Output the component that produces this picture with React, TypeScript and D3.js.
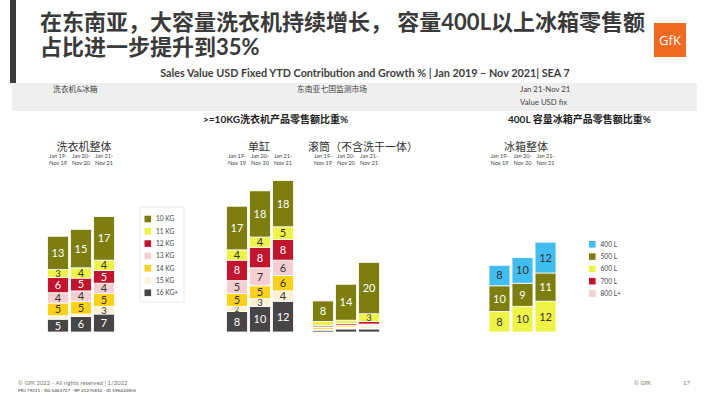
import * as d3 from 'd3';

const periodTop = ['Jan 19-', 'Jan 20-', 'Jan 21-'];
const periodBottom = ['Nov 19', 'Nov 20', 'Nov 21'];

const washerKeys = ['10 KG', '11 KG', '12 KG', '13 KG', '14 KG', '15 KG', '16 KG+'];
const washerColors = ['#7d7e0d', '#eef348', '#c0152d', '#f4cfd2', '#fcd11c', '#fbf1d6', '#474545'];
const washerLabelDark = [false, true, false, true, true, true, false];

// values per key (same order as washerKeys), one value per period
const washerTotal = [
  [13, 15, 17],
  [3, 4, 4],
  [6, 5, 5],
  [4, 4, 4],
  [5, 5, 5],
  [1.3, 1, 3],
  [5, 6, 7],
];
const singleTub = [
  [17, 18, 18],
  [4, 4, 5],
  [8, 8, 8],
  [5, 7, 6],
  [5, 5, 6],
  [2, 3, 4],
  [8, 10, 12],
];
const drum = [
  [8, 14, 20],
  [1.5, 1.3, 3],
  [0.6, 0.6, 1],
  [0.3, 0.3, 0.6],
  [0.6, 0.6, 0.3],
  [0.4, 0.6, 1],
  [0.7, 1.2, 1.2],
];

const fridgeKeys = ['400 L', '500 L', '600 L', '700 L', '800 L+'];
const fridgeColors = ['#41bdf0', '#7d7e0d', '#eef348', '#c0152d', '#f4cfd2'];
const fridgeLabelDark = [true, false, true, false, true];
const fridgeTotal = [
  [8, 10, 12],
  [10, 9, 11],
  [8, 10, 12],
  [0, 0, 0],
  [0, 0, 0],
];

const FONT = "Lato, 'Noto Sans CJK SC', sans-serif";
const y = d3.scaleLinear().domain([0, 60]).range([332, 178]);

type GroupProps = {
  values: number[][];
  keys: string[];
  colors: string[];
  dark: boolean[];
  stackOrder: number[]; // indices bottom -> top
  x0: number;
  x1: number;
};

function StackedGroup({ values, keys, colors, dark, stackOrder, x0, x1 }: GroupProps) {
  const x = d3.scaleBand<number>().domain([0, 1, 2]).range([x0, x1]).paddingInner(0.09);
  const rows = periodTop.map((_, p) => {
    const r: Record<string, number> = {};
    keys.forEach((k, i) => (r[k] = values[i][p]));
    return r;
  });
  const series = d3.stack<Record<string, number>>().keys(stackOrder.map((i) => keys[i]))(rows);
  return (
    <g>
      {series.map((s, si) => {
        const ki = stackOrder[si];
        return s.map((d, p) => {
          const v = d[1] - d[0];
          if (v <= 0) return null;
          const top = y(d[1]);
          const h = y(d[0]) - y(d[1]);
          return (
            <g key={`${si}-${p}`}>
              <rect x={x(p)} y={top} width={x.bandwidth()} height={h} fill={colors[ki]} stroke="#fff" strokeWidth={0.8} />
              {v >= 1.8 && (
                <text
                  x={(x(p) as number) + x.bandwidth() / 2}
                  y={top + h / 2}
                  dy="0.36em"
                  textAnchor="middle"
                  fontSize={v < 2.5 ? 7.5 : v < 3.5 ? 9.5 : 11}
                  fontFamily={FONT}
                  fill={dark[ki] ? '#333' : '#fff'}
                >
                  {Math.round(v)}
                </text>
              )}
            </g>
          );
        });
      })}
      {periodTop.map((t, p) => (
        <text key={'pt' + p} x={(x(p) as number) + x.bandwidth() / 2} y={158} textAnchor="middle" fontSize={5.6} fontFamily={FONT} fill="#444">
          <tspan x={(x(p) as number) + x.bandwidth() / 2}>{t}</tspan>
          <tspan x={(x(p) as number) + x.bandwidth() / 2} dy={7}>{periodBottom[p]}</tspan>
        </text>
      ))}
    </g>
  );
}

function Legend({ keys, colors, x, y0, box }: { keys: string[]; colors: string[]; x: number; y0: number; box?: boolean }) {
  const ly = d3.scaleLinear().domain([0, 1]).range([y0, y0 + 12.3]);
  return (
    <g>
      {box && <rect x={x - 4.5} y={y0 - 12} width={44} height={95} fill="#fff" stroke="#e4e4e4" strokeWidth={0.8} />}
      {keys.map((k, i) => (
        <g key={k}>
          <rect x={x} y={ly(i) - 3.3} width={6.6} height={6.6} fill={colors[i]} stroke={i === 4 && keys.length === 5 ? '#ddd' : 'none'} strokeWidth={0.5} />
          <text x={x + 11.5} y={ly(i)} dy="0.35em" fontSize={6.6} fontFamily={FONT} fill="#444">{k}</text>
        </g>
      ))}
    </g>
  );
}

export default function App() {
  const washerOrder = [6, 5, 4, 3, 2, 1, 0];
  const fridgeOrder = [2, 1, 0];
  return (
    <svg width={710} height={399} style={{ position: 'absolute', left: 0, top: 0, background: '#fff' }} fontFamily={FONT}>
      <rect x={0} y={0} width={710} height={399} fill="#fff" />
      <rect x={10} y={0} width={6} height={83} fill="#3b3b3b" />
      <text x={40} y={30} fontSize={22} fontWeight="bold" fill="#3a3a3a">在东南亚，大容量洗衣机持续增长， 容量400L以上冰箱零售额</text>
      <text x={40} y={55} fontSize={22} fontWeight="bold" fill="#3a3a3a">占比进一步提升到35%</text>
      <rect x={654} y={23} width={32} height={34} fill="#f26a21" />
      <text x={670} y={45} textAnchor="middle" fontSize={13} fill="#fff" fontFamily="'Open Sans', sans-serif">GfK</text>
      <text x={365} y={77} textAnchor="middle" fontSize={10.8} fontWeight="bold" fill="#3d3d3d">
        Sales Value USD Fixed YTD Contribution and Growth % | Jan 2019 – Nov 2021| SEA 7
      </text>
      <rect x={12} y={83} width={685} height={28} fill="#efefef" />
      <text x={53} y={92} fontSize={7.8} fill="#444">洗衣机&amp;冰箱</text>
      <text x={297} y={92} fontSize={7.8} fill="#444">东南亚七国监测市场</text>
      <text x={520} y={92} fontSize={7.8} fill="#444">Jan 21-Nov 21</text>
      <text x={520} y={105} fontSize={7.8} fill="#444">Value USD fix</text>
      <text x={203} y={123} fontSize={10} fontWeight="bold" fill="#222">&gt;=10KG洗衣机产品零售额比重%</text>
      <text x={508} y={123} fontSize={10} fontWeight="bold" fill="#222">400L 容量冰箱产品零售额比重%</text>

      <text x={84} y={151} textAnchor="middle" fontSize={11} fill="#333">洗衣机整体</text>
      <text x={259} y={151} textAnchor="middle" fontSize={11} fill="#333">单缸</text>
      <text x={308} y={151} fontSize={11} fill="#333">滚筒（不含洗干一体）</text>
      <text x={526} y={151} textAnchor="middle" fontSize={11} fill="#333">冰箱整体</text>

      <StackedGroup values={washerTotal} keys={washerKeys} colors={washerColors} dark={washerLabelDark} stackOrder={washerOrder} x0={47.5} x1={114.5} />
      <StackedGroup values={singleTub} keys={washerKeys} colors={washerColors} dark={washerLabelDark} stackOrder={washerOrder} x0={226.5} x1={293.5} />
      <StackedGroup values={drum} keys={washerKeys} colors={washerColors} dark={washerLabelDark} stackOrder={washerOrder} x0={312.5} x1={379.5} />
      <StackedGroup values={fridgeTotal} keys={fridgeKeys} colors={fridgeColors} dark={fridgeLabelDark} stackOrder={fridgeOrder} x0={489} x1={556} />

      <Legend keys={washerKeys} colors={washerColors} x={144.5} y0={219} box />
      <Legend keys={fridgeKeys} colors={fridgeColors} x={589} y0={244.3} />

      <text x={18} y={385} fontSize={6} fill="#777">© GfK 2022 - All rights reserved | 1/2022</text>
      <text x={18} y={392} fontSize={4.6} fill="#333">PRJ 79311 - RG 5463727 - RP 41275810 - ID 596422855</text>
      <text x={634} y={385} fontSize={6} fill="#777">© GfK</text>
      <text x={683} y={385} fontSize={6} fill="#777">17</text>
    </svg>
  );
}
